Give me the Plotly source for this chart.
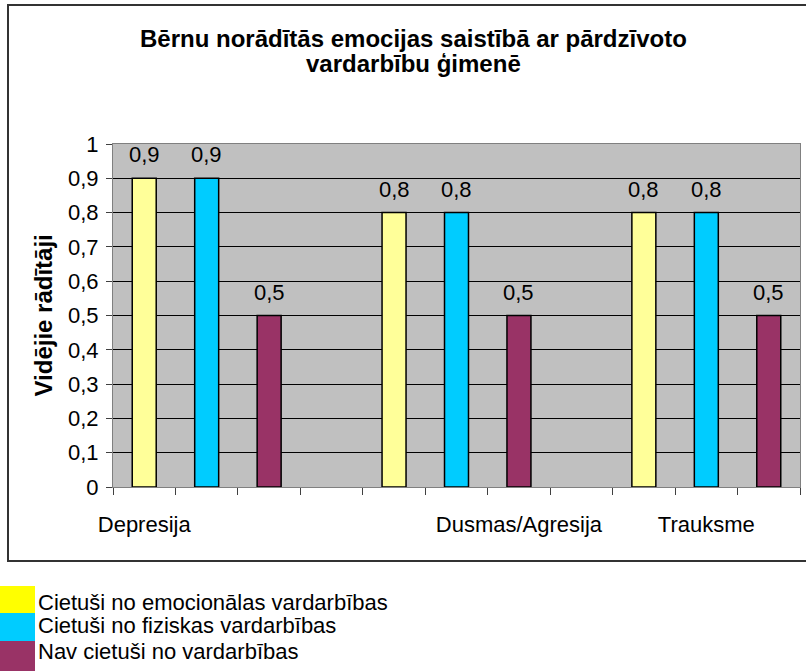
import plotly.graph_objects as go

# ---- data ----
emotions = ["Depresija", "Dusmas/Agresija", "Trauksme"]
series_names = [
    "Cietuši no emocionālas vardarbības",
    "Cietuši no fiziskas vardarbības",
    "Nav cietuši no vardarbības",
]
emotional = [0.9, 0.8, 0.8]
physical = [0.9, 0.8, 0.8]
no_violence = [0.5, 0.5, 0.5]
# category axis labels exactly as shown in the original (11 category slots)
category_labels = ["Depresija", "", "", "", "", "", "Dusmas/Agresija", "", "", "Trauksme", ""]
y_tick_values = [0, 0.1, 0.2, 0.3, 0.4, 0.5, 0.6, 0.7, 0.8, 0.9, 1]

title_lines = ["Bērnu norādītās emocijas saistībā ar pārdzīvoto", "vardarbību ģimenē"]
y_title = "Vidējie rādītāji"

# ---- styling ----
W, H = 806, 671
L, R, T, B = 113, 800, 144, 487  # plot area in pixels
FONT = "Liberation Sans, Arial, sans-serif"
bar_colors = ["#FFFF99", "#00CCFF", "#993366"]
legend_colors = ["#FFFF00", "#00CCFF", "#993366"]


def px2x(px):
    return (px - L) / (R - L)


def px2y(py):
    return (B - py) / (B - T)


slots = [f"s{i}" for i in range(len(category_labels))]
series = [emotional, physical, no_violence]
group_stride = len(series) + 1

fig = go.Figure()
annotations = []
for j, vals in enumerate(series):
    xs = [slots[group_stride * i + j] for i in range(len(emotions))]
    fig.add_trace(go.Bar(
        x=xs, y=vals, name=series_names[j], width=0.384,
        marker=dict(color=bar_colors[j], line=dict(color="black", width=1.5)),
        showlegend=False, hoverinfo="skip",
    ))
    for x, v in zip(xs, vals):
        annotations.append(dict(
            x=x, y=v, xref="x", yref="y", text=f"{v:.1f}".replace(".", ","),
            showarrow=False, yanchor="bottom", yshift=9,
            font=dict(family=FONT, size=22, color="black"),
        ))

# title
for k, (line, cy) in enumerate(zip(title_lines, [38, 63])):
    annotations.append(dict(
        x=px2x(413.5), y=px2y(cy), xref="paper", yref="paper", text=f"<b>{line}</b>",
        showarrow=False, xanchor="center", yanchor="middle",
        font=dict(family=FONT, size=24, color="black"),
    ))

# y axis title
annotations.append(dict(
    x=px2x(43), y=px2y(315.5), xref="paper", yref="paper", text=f"<b>{y_title}</b>",
    textangle=-90, showarrow=False, xanchor="center", yanchor="middle",
    font=dict(family=FONT, size=24, color="black"),
))

shapes = []
# outer chart border
shapes.append(dict(
    type="rect", xref="paper", yref="paper",
    x0=px2x(8), x1=px2x(815), y0=px2y(561), y1=px2y(5),
    line=dict(color="#333333", width=2), fillcolor="rgba(0,0,0,0)", layer="below",
))

# legend (outside chart border, bottom-left)
legend_rows = [(586, 613, 602), (613, 641, 625), (641, 671, 651)]
for name, col, (y0, y1, cy) in zip(series_names, legend_colors, legend_rows):
    shapes.append(dict(
        type="rect", xref="paper", yref="paper",
        x0=px2x(0), x1=px2x(35), y0=px2y(y1), y1=px2y(y0),
        line=dict(width=0), fillcolor=col,
    ))
    annotations.append(dict(
        x=px2x(36), y=px2y(cy), xref="paper", yref="paper", text=name,
        showarrow=False, xanchor="left", yanchor="middle",
        font=dict(family=FONT, size=22, color="black"),
    ))

fig.update_layout(
    width=W, height=H,
    margin=dict(l=L, r=W - R, t=T, b=H - B, pad=0, autoexpand=False),
    paper_bgcolor="white", plot_bgcolor="#C0C0C0",
    separators=", ",
    barmode="overlay",
    font=dict(family=FONT, size=22, color="black"),
    annotations=annotations, shapes=shapes,
    xaxis=dict(
        type="category", categoryorder="array", categoryarray=slots,
        range=[-0.5, len(slots) - 0.5],
        tickmode="array", tickvals=slots, ticktext=category_labels, tickangle=0,
        tickson="boundaries", ticks="outside", ticklen=7, tickcolor="#404040", tickwidth=1,
        showgrid=False, showline=True, linecolor="#808080", linewidth=1, mirror=True,
        ticklabelstandoff=18, tickfont=dict(family=FONT, size=22, color="black"),
        zeroline=False, automargin=False,
    ),
    yaxis=dict(
        range=[0, 1], tickmode="array", tickvals=y_tick_values,
        ticks="outside", ticklen=6, tickcolor="#404040", tickwidth=1,
        showgrid=True, gridcolor="#000000", gridwidth=1,
        showline=True, linecolor="#808080", linewidth=1, mirror=True,
        ticklabelstandoff=3, tickfont=dict(family=FONT, size=22, color="black"),
        zeroline=False, automargin=False,
    ),
)

fig.write_html(
    "out.html",
    config={"displayModeBar": False, "staticPlot": True},
    post_script="document.body.style.margin='0';document.body.style.overflow='hidden';",
)
